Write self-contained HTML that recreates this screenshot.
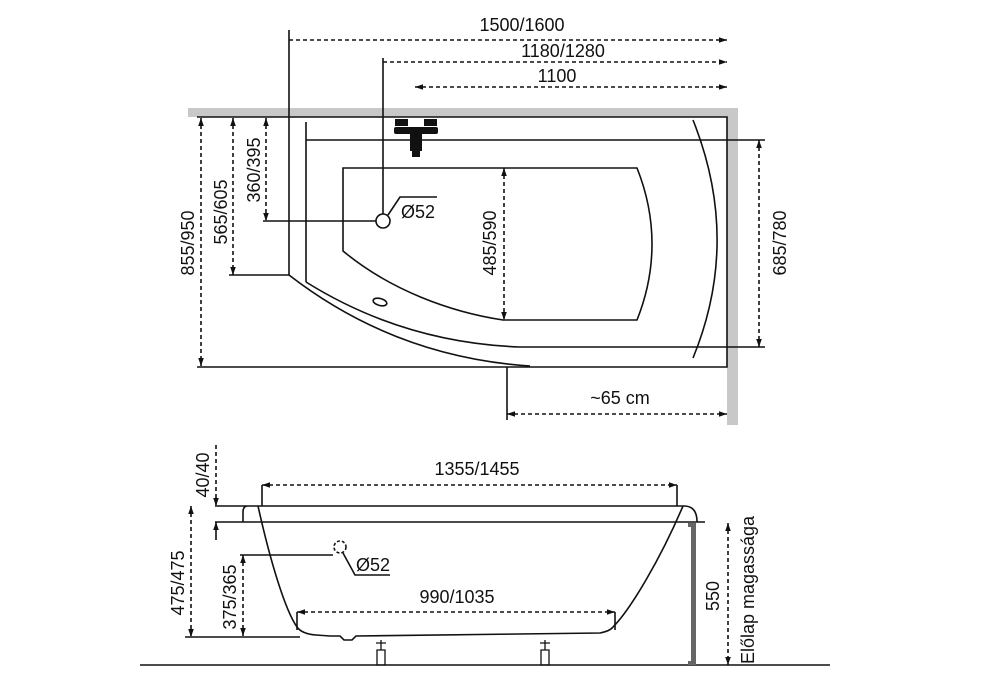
<!DOCTYPE html>
<html><head><meta charset="utf-8"><style>
html,body{margin:0;padding:0;background:#fff}
svg{display:block}
text{font-family:"Liberation Sans",sans-serif;font-size:18px;fill:#111}
</style></head><body>
<svg width="990" height="675" viewBox="0 0 990 675" xmlns="http://www.w3.org/2000/svg">
<defs>
<marker id="a" viewBox="0 0 10 10" refX="10" refY="5" markerWidth="8" markerHeight="8" orient="auto-start-reverse" markerUnits="userSpaceOnUse"><path d="M0,1.5L10,5L0,8.5z" fill="#111"/></marker>
</defs>
<g fill="none" stroke="#111" stroke-width="1.6">
<rect x="188" y="108" width="550" height="9" fill="#c8c8c8" stroke="none"/>
<rect x="727" y="108" width="11" height="317" fill="#c8c8c8" stroke="none"/>
<path d="M197,117H727V367H197"/>
<path d="M289,30V275"/>
<path d="M306,122V282"/>
<path d="M306,140H765"/>
<path d="M637,168H343V251C390,290 450,312 503,320H637C657,270 657,218 637,168Z"/>
<path d="M306,282C370,322 440,344 520,347H765"/>
<path d="M289,275C360,330 440,360 530,366"/>
<path d="M693,120C725,200 725,280 693,358"/>
<ellipse cx="380" cy="302" rx="7" ry="3.5" transform="rotate(15 380 302)"/>
<path d="M383,58V214"/>
<circle cx="383" cy="221" r="7"/>
<path d="M263,221H376"/>
<path d="M388,215L400,197H437"/>
<path d="M289,40H727" stroke-dasharray="4,3" marker-end="url(#a)"/>
<path d="M383,62H727" stroke-dasharray="4,3" marker-end="url(#a)"/>
<path d="M415,87H727" stroke-dasharray="4,3" marker-start="url(#a)" marker-end="url(#a)"/>
<path d="M201,118V366" stroke-dasharray="4,3" marker-start="url(#a)" marker-end="url(#a)"/>
<path d="M233,118V275" stroke-dasharray="4,3" marker-start="url(#a)" marker-end="url(#a)"/>
<path d="M229,275H289"/>
<path d="M266,118V221" stroke-dasharray="4,3" marker-start="url(#a)" marker-end="url(#a)"/>
<path d="M504,168V320" stroke-dasharray="4,3" marker-start="url(#a)" marker-end="url(#a)"/>
<path d="M759,140V347" stroke-dasharray="4,3" marker-start="url(#a)" marker-end="url(#a)"/>
<path d="M507,367V420"/>
<path d="M507,414H727" stroke-dasharray="4,3" marker-start="url(#a)" marker-end="url(#a)"/>
</g>
<g fill="#111">
<rect x="395" y="119" width="13" height="7"/>
<rect x="424" y="119" width="13" height="7"/>
<rect x="394" y="127" width="44" height="7" rx="2"/>
<rect x="410" y="134" width="12" height="17"/>
<rect x="412" y="150" width="8" height="7"/>
</g>
<g text-anchor="middle">
<text x="522" y="31">1500/1600</text>
<text x="563" y="57">1180/1280</text>
<text x="557" y="82">1100</text>
<text x="620" y="404">~65 cm</text>
<text x="418" y="218">Ø52</text>
<text transform="translate(194,243) rotate(-90)">855/950</text>
<text transform="translate(227,212) rotate(-90)">565/605</text>
<text transform="translate(260,170) rotate(-90)">360/395</text>
<text transform="translate(496,243) rotate(-90)">485/590</text>
<text transform="translate(786,243) rotate(-90)">685/780</text>
</g>
<g fill="none" stroke="#111" stroke-width="1.6">
<path d="M140,665H830"/>
<path d="M215,506H248Q243,506 243,512V522"/>
<path d="M248,506H684Q697,506 697,522"/>
<path d="M215,522H705"/>
<path d="M258,506C270,560 285,610 297,627Q302,634 316,635L330,636H340L344,640H352L356,636L600,633Q610,631 613,627"/>
<path d="M613,627C630,610 660,560 683,506"/>
<path d="M216,445V506" stroke-dasharray="4,3" marker-end="url(#a)"/>
<path d="M216,540V522" marker-end="url(#a)"/>
<path d="M191,506V637" stroke-dasharray="4,3" marker-start="url(#a)" marker-end="url(#a)"/>
<path d="M185,637H300"/>
<path d="M243,555V636" stroke-dasharray="4,3" marker-start="url(#a)" marker-end="url(#a)"/>
<path d="M240,555H333"/>
<circle cx="340" cy="547" r="6" stroke-dasharray="3,2"/>
<path d="M343,553L355,575H390"/>
<path d="M262,485V506M677,485V506"/>
<path d="M262,485H677" stroke-dasharray="4,3" marker-start="url(#a)" marker-end="url(#a)"/>
<path d="M297,612V630M615,612V630"/>
<path d="M297,612H615" stroke-dasharray="4,3" marker-start="url(#a)" marker-end="url(#a)"/>
<path d="M728,523V665" stroke-dasharray="4,3" marker-start="url(#a)" marker-end="url(#a)"/>
</g>
<rect x="691" y="523" width="5" height="142" fill="#666"/>
<rect x="688" y="523" width="8" height="4" fill="#666"/>
<rect x="688" y="661" width="8" height="4" fill="#666"/>
<g fill="none" stroke="#111" stroke-width="1.3">
<path d="M376,643H386M381,640V650M377,650H385V665H377Z"/>
<path d="M540,643H550M545,640V650M541,650H549V665H541Z"/>
</g>
<g text-anchor="middle">
<text x="477" y="475">1355/1455</text>
<text x="457" y="603">990/1035</text>
<text x="373" y="571">Ø52</text>
<text transform="translate(209,475) rotate(-90)">40/40</text>
<text transform="translate(184,583) rotate(-90)">475/475</text>
<text transform="translate(236,597) rotate(-90)">375/365</text>
<text transform="translate(719,596) rotate(-90)">550</text>
<text transform="translate(754,590) rotate(-90)">Előlap magassága</text>
</g>
</svg>
</body></html>
